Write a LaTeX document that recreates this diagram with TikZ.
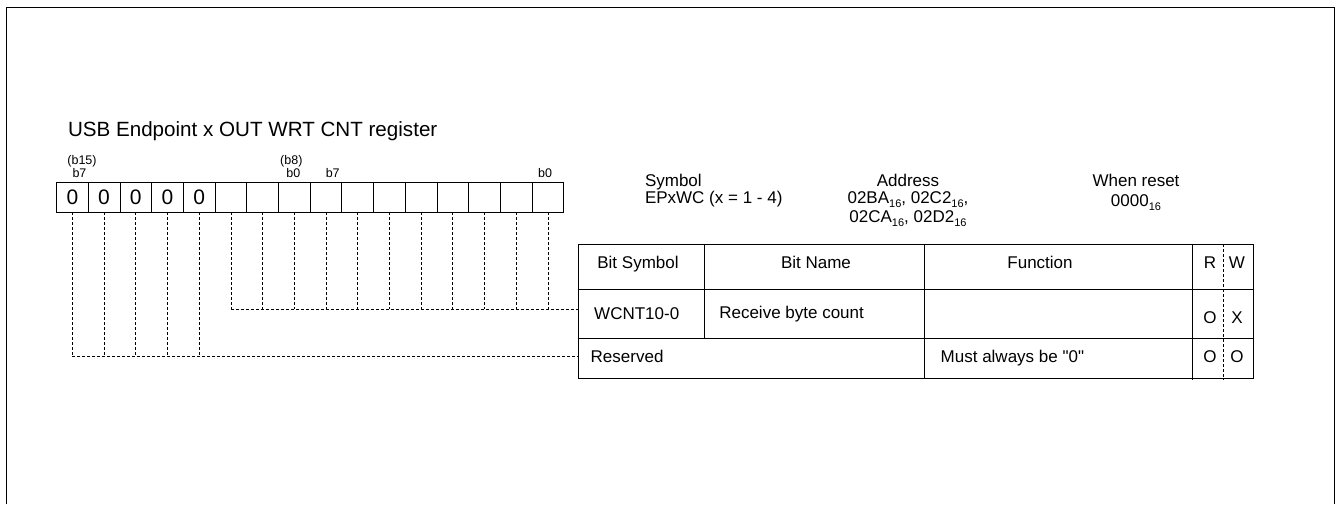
\documentclass[tikz,border=0pt]{standalone}
\usepackage{fontspec}
\setmainfont{Liberation Sans}[Ligatures=TeXOff]
\newcommand{\subsix}{\raisebox{-4pt}{\fontsize{11}{12}\selectfont 16}}
\begin{document}
\begin{tikzpicture}[x=1pt,y=-1pt,
  every node/.style={inner sep=0pt, outer sep=0pt, font=\fontsize{17}{18}\selectfont},
  cellbox/.style={draw, line width=0.8pt, minimum width=31.7pt, minimum height=30pt, font=\fontsize{21}{22}\selectfont},
  lbl/.style={font=\fontsize{12.5}{13}\selectfont},
  conn/.style={line width=0.6pt, dash pattern=on 3pt off 2pt},
  tline/.style={line width=0.8pt}]
\useasboundingbox (0,0) rectangle (1337,504);
% outer frame
\draw[line width=1pt] (6,504) -- (6,7) -- (1334,7) -- (1334,504);
% title
\node[anchor=base west, font=\fontsize{20.6}{22}\selectfont] (title) at (68,136) {USB Endpoint x OUT WRT CNT register};
% register cells
\foreach \i in {1,...,5} \node[cellbox] (c\i) at ({56.5+31.7*(\i-0.5)},197) {0};
\foreach \i in {6,...,16} \node[cellbox] (c\i) at ({56.5+31.7*(\i-0.5)},197) {};
% bit labels
\node[lbl] (l15) at (82,161) {(b15)};
\node[lbl] (l15b) at (79.5,173.5) {b7};
\node[lbl] (l8) at (291.3,161) {(b8)};
\node[lbl] (l8b) at (293.3,173.5) {b0};
\node[lbl] (l7) at (332.7,173.5) {b7};
\node[lbl] (l0) at (545,173.5) {b0};
% symbol / address / reset
\node[anchor=base west] (symh) at (645,186) {Symbol};
\node[anchor=base west] (symv) at (645,203) {EPxWC (x = 1 - 4)};
\node[anchor=base] (addrh) at (908,186) {Address};
\node[anchor=base] (addr1) at (908,203) {02BA\subsix, 02C2\subsix,};
\node[anchor=base] (addr2) at (908,222) {02CA\subsix, 02D2\subsix};
\node[anchor=base] (rsth) at (1136,186) {When reset};
\node[anchor=base] (rstv) at (1136,206) {0000\subsix};
% table
\draw[tline] (578,244) rectangle (1253,378);
\draw[tline] (578,289) -- (1253,289);
\draw[tline] (578,338) -- (1253,338);
\draw[tline] (704,244) -- (704,338);
\draw[tline] (924,244) -- (924,378);
\draw[tline] (1192,244) -- (1192,380);
\draw[conn] (1223,244) -- (1223,380);
% table header
\node[anchor=base] (hbs) at (638,268) {Bit Symbol};
\node[anchor=base] (hbn) at (816,268) {Bit Name};
\node[anchor=base] (hfn) at (1040,268) {Function};
\node[anchor=base] (hr) at (1210,268) {R};
\node[anchor=base] (hw) at (1237,268) {W};
% row 1
\node[anchor=base] (wsym) at (636.7,319) {WCNT10-0};
\node[anchor=base west] (wname) at (719.3,318) {Receive byte count};
\node[anchor=base] (wr) at (1210,323) {O};
\node[anchor=base] (ww) at (1237,323) {X};
% row 2
\node[anchor=base west] (rsym) at (590.7,362) {Reserved};
\node[anchor=base west] (rfn) at (940.7,362) {Must always be "0"};
\node[anchor=base] (rr) at (1210,362) {O};
\node[anchor=base] (rw) at (1237,362) {O};
% connectors
\coordinate (rowW) at (578,309);
\coordinate (rowR) at (578,356);
\foreach \i in {1,...,5} \draw[conn] (c\i.south) -- (c\i.south |- rowR);
\draw[conn] (c1.south |- rowR) -- (rowR);
\foreach \i in {6,...,16} \draw[conn] (c\i.south) -- (c\i.south |- rowW);
\draw[conn] (c6.south |- rowW) -- (rowW);
\end{tikzpicture}
\end{document}
